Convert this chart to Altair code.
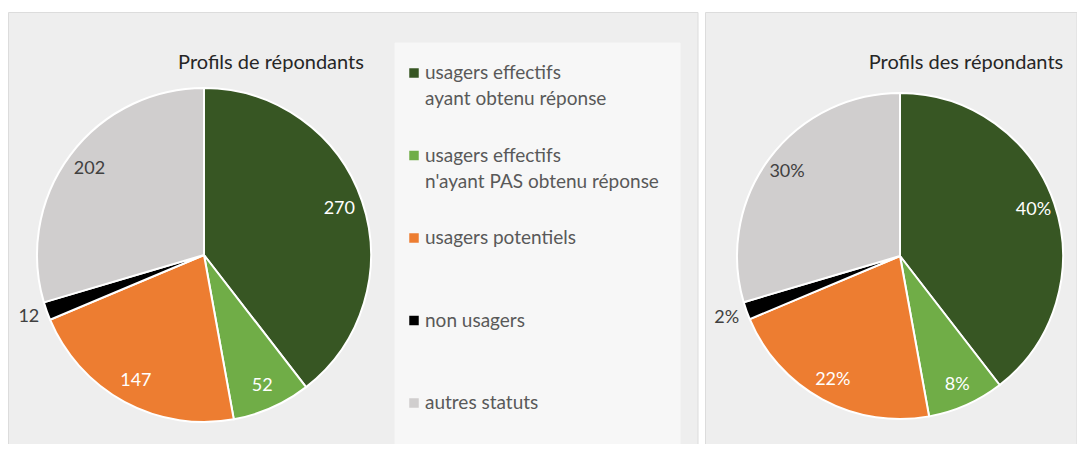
import altair as alt
import pandas as pd

categories = [
    "usagers effectifs ayant obtenu réponse",
    "usagers effectifs n'ayant PAS obtenu réponse",
    "usagers potentiels",
    "non usagers",
    "autres statuts",
]
legend_labels = [
    "usagers effectifs\nayant obtenu réponse",
    "usagers effectifs\nn'ayant PAS obtenu réponse",
    "usagers potentiels",
    "non usagers",
    "autres statuts",
]
counts = [270, 52, 147, 12, 202]
colors = ["#375623", "#70ad47", "#ed7d31", "#000000", "#d0cece"]
title_left = "Profils de répondants"
title_right = "Profils des répondants"

total = sum(counts)
df = pd.DataFrame({
    "cat": categories,
    "idx": list(range(len(categories))),
    "value": counts,
    "legend": legend_labels,
})
df["count_label"] = [str(v) for v in counts]
df["pct_label"] = [f"{round(v / total * 100)}%" for v in counts]

FONT = "Lato"
color_scale = alt.Scale(domain=categories, range=colors)
dark_cats = ["autres statuts", "non usagers"]
outside_cat = "non usagers"

one = alt.Data(values=[{}])


def panel(x1, x2, y1, y2, fill, stroke):
    return alt.Chart(one).mark_rect(fill=fill, stroke=stroke, strokeWidth=1).encode(
        x=alt.value(x1), x2=alt.value(x2), y=alt.value(y1), y2=alt.value(y2)
    )


def pie(cx, cy, r, label_field, r_in, r_out):
    base = alt.Chart(df)
    arcs = base.mark_arc(outerRadius=r, stroke="white", strokeWidth=2).encode(
        theta=alt.Theta("value:Q", stack=True),
        color=alt.Color("cat:N", scale=color_scale, legend=None),
        order=alt.Order("idx:Q"),
        x=alt.value(cx),
        y=alt.value(cy),
    )

    def label_layer(radius, outside):
        test = f"datum.cat == '{outside_cat}'"
        expr = (f"{test} ? datum.{label_field} : ''" if outside
                else f"{test} ? '' : datum.{label_field}")
        return base.transform_calculate(lab=expr).mark_text(
            font=FONT, fontSize=18, radius=radius
        ).encode(
            theta=alt.Theta("value:Q", stack=True),
            order=alt.Order("idx:Q"),
            text=alt.Text("lab:N"),
            color=alt.condition(
                alt.FieldOneOfPredicate(field="cat", oneOf=dark_cats),
                alt.value("#404040"),
                alt.value("white"),
            ),
            x=alt.value(cx),
            y=alt.value(cy),
        )

    return arcs + label_layer(r_in, False) + label_layer(r_out, True)


def title(txt, cx, cy):
    return alt.Chart(one).mark_text(
        font=FONT, fontSize=20, color="#262626", text=txt
    ).encode(x=alt.value(cx), y=alt.value(cy))


legend_y = alt.Y("idx:Q", scale=alt.Scale(domain=[0, 4], range=[71, 401]), axis=None)
legend_sym = alt.Chart(df).mark_square(size=90, opacity=1, yOffset=-6).encode(
    x=alt.value(406),
    y=legend_y,
    color=alt.Color("cat:N", scale=color_scale, legend=None),
)
legend_txt = alt.Chart(df).mark_text(
    font=FONT, fontSize=19, color="#595959", align="left", baseline="alphabetic",
    lineBreak="\n", lineHeight=26,
).encode(
    x=alt.value(417),
    y=legend_y,
    text="legend:N",
)

chart = alt.layer(
    panel(0.5, 690, 4.5, 440, "#eeeeee", "#dcdcdc"),
    panel(697.5, 1069, 4.5, 440, "#eeeeee", "#dcdcdc"),
    panel(387, 672, 35, 440, "#f7f7f7", "#f7f7f7"),
    pie(196, 247, 167, "count_label", 143, 186),
    pie(892, 248, 163, "pct_label", 141, 184),
    title(title_left, 263, 55),
    title(title_right, 958, 55),
    legend_sym,
    legend_txt,
).properties(
    width=1069,
    height=436,
    padding=0,
    autosize=alt.AutoSizeParams(type="none"),
).configure_view(stroke=None)

chart.save("out.html", embed_options={"renderer": "svg", "actions": False})
